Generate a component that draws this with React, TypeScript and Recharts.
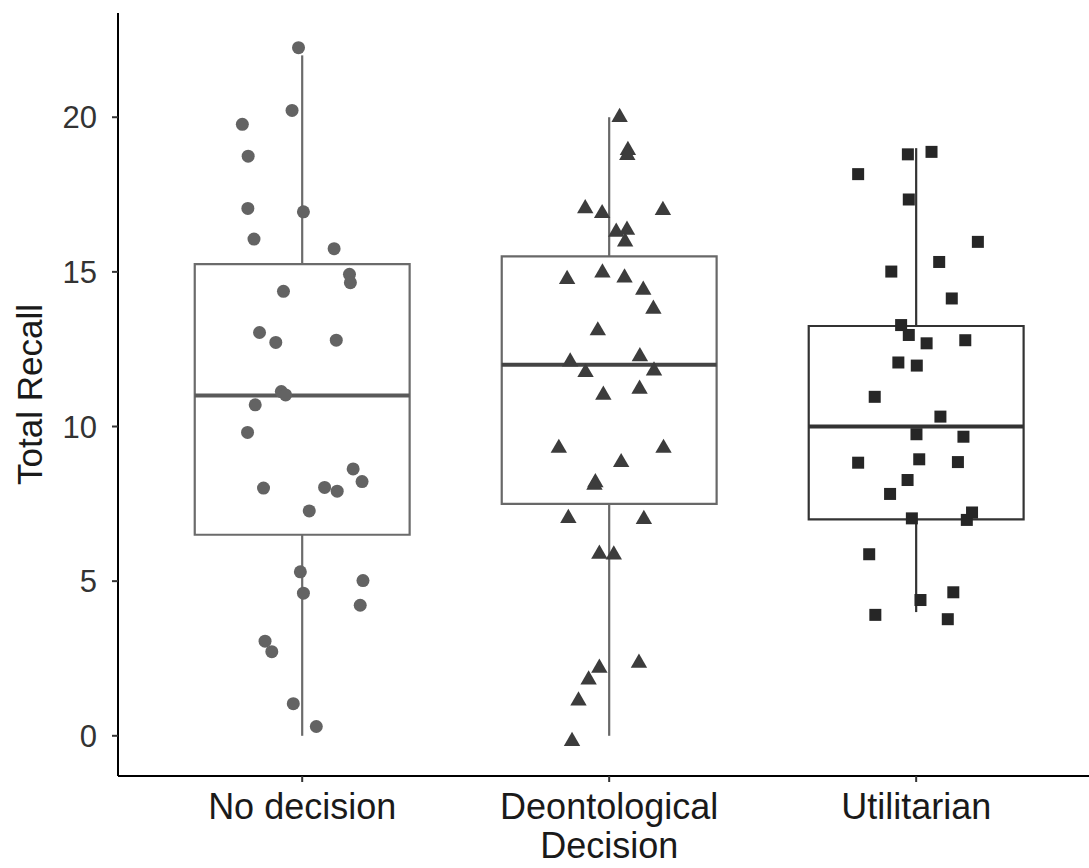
import React from "react";
import { ComposedChart, Scatter, XAxis, YAxis, ReferenceArea, ReferenceLine } from "recharts";

// groups and box statistics
const categories = ["No decision", "Deontological\nDecision", "Utilitarian"];
const lowerWhisker = [0, 0, 4];
const q1 = [6.5, 7.5, 7];
const median = [11, 12, 10];
const q3 = [15.25, 15.5, 13.25];
const upperWhisker = [22, 20, 19];
const yTicks = [0, 5, 10, 15, 20];

// jittered observations (x = group position + jitter)
const noDecisionX = [0.988, 0.967, 0.805, 0.824, 0.823, 1.004, 0.843, 1.104, 1.154, 1.157, 0.939, 0.861, 0.914, 1.111, 0.932, 0.946, 0.847, 0.822, 1.166, 1.195, 0.874, 1.073, 1.114, 1.023, 0.994, 1.198, 1.004, 1.189, 0.879, 0.901, 0.971, 1.046];
const noDecisionY = [22.25, 20.22, 19.77, 18.74, 17.05, 16.94, 16.06, 15.75, 14.92, 14.65, 14.37, 13.04, 12.72, 12.79, 11.13, 11.02, 10.7, 9.81, 8.63, 8.22, 8.01, 8.03, 7.91, 7.27, 5.3, 5.02, 4.61, 4.22, 3.06, 2.72, 1.04, 0.3];

const deonX = [2.034, 2.061, 2.059, 1.922, 1.977, 2.175, 2.023, 2.058, 2.052, 1.863, 1.978, 2.05, 2.111, 2.144, 1.963, 1.873, 2.1, 1.923, 2.146, 1.981, 2.099, 1.836, 2.177, 2.039, 1.955, 1.952, 1.867, 2.113, 1.968, 2.015, 1.968, 2.097, 1.933, 1.9, 1.879];
const deonY = [20.0, 18.93, 18.77, 17.05, 16.89, 16.99, 16.29, 16.35, 15.97, 14.76, 14.97, 14.81, 14.41, 13.8, 13.1, 12.09, 12.26, 11.75, 11.8, 11.02, 11.21, 9.3, 9.3, 8.84, 8.19, 8.11, 7.03, 7.0, 5.88, 5.85, 2.19, 2.35, 1.81, 1.13, -0.18];

const utilX = [2.973, 3.05, 2.811, 2.976, 3.201, 3.075, 2.919, 3.116, 2.951, 2.976, 3.034, 3.16, 2.942, 3.002, 2.865, 3.079, 3.001, 3.154, 2.811, 3.01, 3.136, 2.972, 2.915, 2.986, 3.165, 3.182, 2.847, 3.121, 3.014, 2.867, 3.103];
const utilY = [18.8, 18.88, 18.16, 17.34, 15.97, 15.32, 15.01, 14.14, 13.28, 12.96, 12.69, 12.79, 12.07, 11.97, 10.96, 10.32, 9.75, 9.67, 8.83, 8.94, 8.85, 8.27, 7.82, 7.03, 6.98, 7.22, 5.87, 4.64, 4.39, 3.91, 3.77];

const boxColors = ["#6b6b6b", "#686868", "#333333"];
const medianColors = ["#5a5a5a", "#444444", "#333333"];
const FONT = "'Liberation Sans', Arial, sans-serif";

const zip = (xs: number[], ys: number[]) => xs.map((x, i) => ({ x, y: ys[i] }));

const Dot = (p: any) => <circle cx={p.cx} cy={p.cy} r={6.5} fill="#636363" />;
const Tri = (p: any) => (
  <polygon
    points={`${p.cx},${p.cy - 9.5} ${p.cx - 8.2},${p.cy + 4.7} ${p.cx + 8.2},${p.cy + 4.7}`}
    fill="#3c3c3c"
  />
);
const Sq = (p: any) => <rect x={p.cx - 6} y={p.cy - 6} width={12} height={12} fill="#262626" />;

const CatTick = (props: any) => {
  const { x, y, payload } = props;
  const lines = categories[Math.round(payload.value) - 1].split("\n");
  return (
    <text x={x} y={y} textAnchor="middle" fontFamily={FONT} fontSize={36} fill="#1a1a1a">
      {lines.map((l, i) => (
        <tspan key={i} x={x} y={y + 37 + i * 39}>
          {l}
        </tspan>
      ))}
    </text>
  );
};

export default function App() {
  return (
    <div style={{ position: "absolute", left: 0, top: 0, background: "#fff" }}>
      <ComposedChart width={1089} height={868} margin={{ top: 13, right: 0, left: 0, bottom: 0 }}>
        <XAxis
          type="number"
          dataKey="x"
          domain={[0.4, 3.563]}
          ticks={[1, 2, 3]}
          allowDataOverflow
          height={92}
          tickSize={6}
          tickMargin={0}
          tick={<CatTick />}
          axisLine={{ stroke: "#000", strokeWidth: 2 }}
          tickLine={{ stroke: "#333", strokeWidth: 2 }}
        />
        <YAxis
          type="number"
          dataKey="y"
          domain={[-1.3, 23.37]}
          ticks={yTicks}
          allowDataOverflow
          width={118}
          tickSize={6}
          tickMargin={15}
          tick={{ fill: "#333", fontSize: 31, fontFamily: FONT }}
          axisLine={{ stroke: "#000", strokeWidth: 2 }}
          tickLine={{ stroke: "#333", strokeWidth: 2 }}
          label={{
            value: "Total Recall",
            angle: -90,
            position: "insideLeft",
            offset: 30,
            style: { fontSize: 35, fontFamily: FONT, fill: "#1a1a1a", textAnchor: "middle" },
          }}
        />
        {categories.map((_, i) => (
          <ReferenceLine
            key={`uw${i}`}
            segment={[{ x: i + 1, y: q3[i] }, { x: i + 1, y: upperWhisker[i] }]}
            stroke={boxColors[i]}
            strokeWidth={2.2}
            zIndex={50}
          />
        ))}
        {categories.map((_, i) => (
          <ReferenceLine
            key={`lw${i}`}
            segment={[{ x: i + 1, y: lowerWhisker[i] }, { x: i + 1, y: q1[i] }]}
            stroke={boxColors[i]}
            strokeWidth={2.2}
            zIndex={50}
          />
        ))}
        {categories.map((_, i) => (
          <ReferenceArea
            key={`box${i}`}
            x1={i + 1 - 0.35}
            x2={i + 1 + 0.35}
            y1={q1[i]}
            y2={q3[i]}
            fill="#fff"
            fillOpacity={1}
            stroke={boxColors[i]}
            strokeWidth={2.2}
            zIndex={55}
          />
        ))}
        {categories.map((_, i) => (
          <ReferenceLine
            key={`med${i}`}
            segment={[{ x: i + 1 - 0.35, y: median[i] }, { x: i + 1 + 0.35, y: median[i] }]}
            stroke={medianColors[i]}
            strokeWidth={4}
            zIndex={60}
          />
        ))}
        <Scatter data={zip(noDecisionX, noDecisionY)} shape={Dot} isAnimationActive={false} />
        <Scatter data={zip(deonX, deonY)} shape={Tri} isAnimationActive={false} />
        <Scatter data={zip(utilX, utilY)} shape={Sq} isAnimationActive={false} />
      </ComposedChart>
    </div>
  );
}
